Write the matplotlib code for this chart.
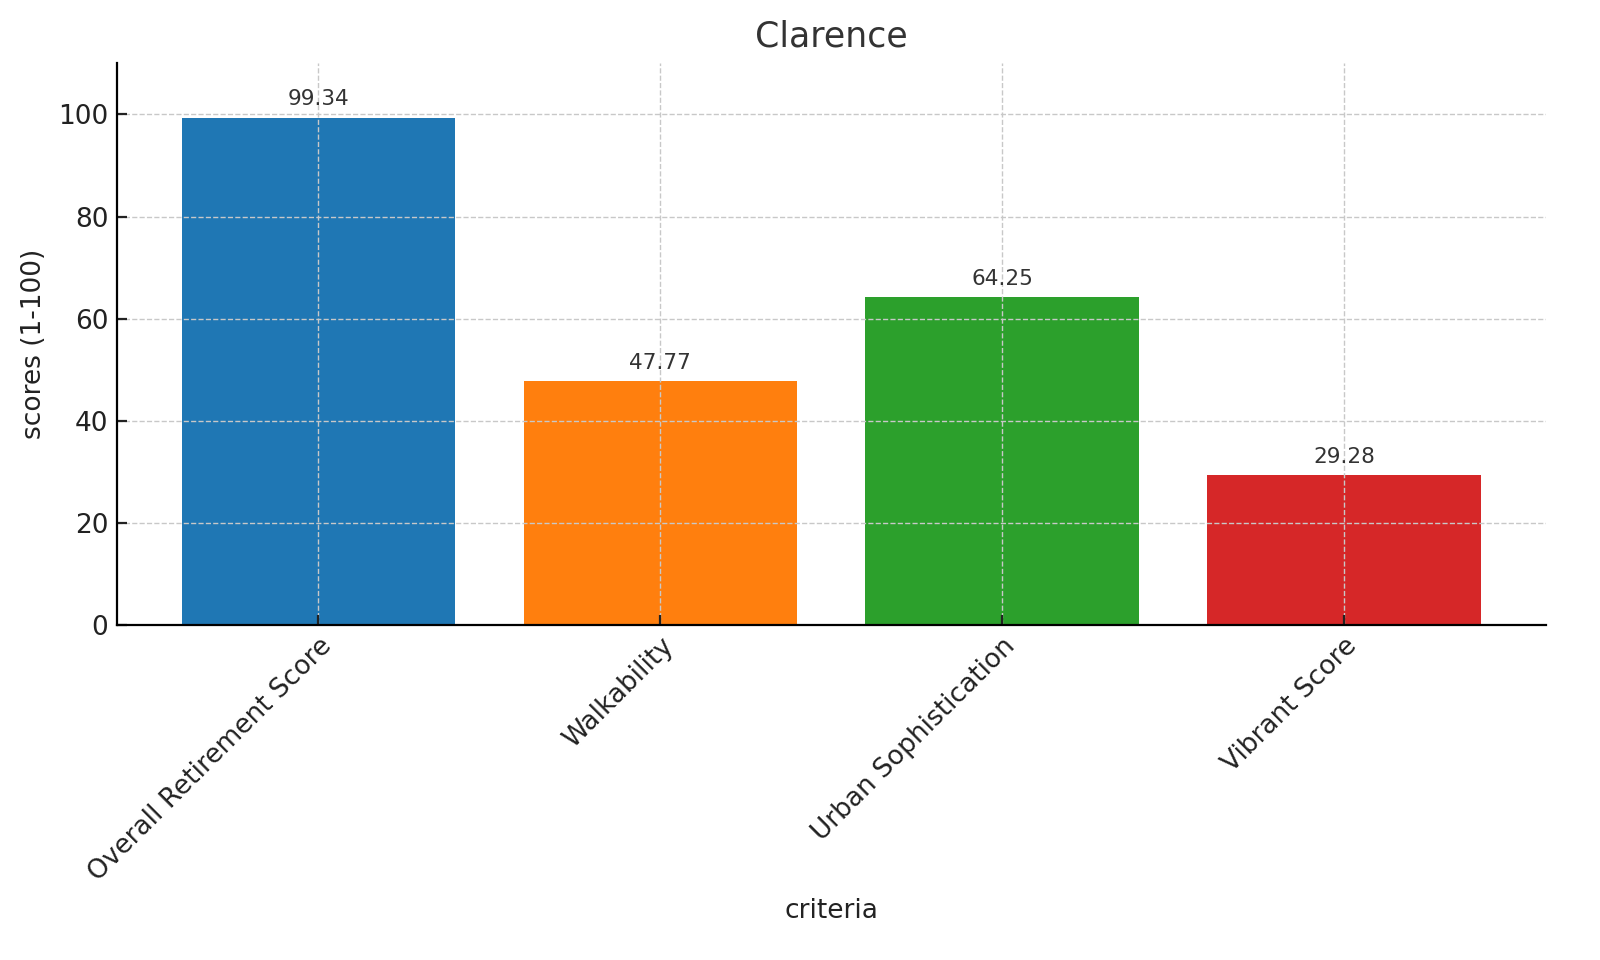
import matplotlib
matplotlib.use("Agg")
import matplotlib.pyplot as plt

criteria = ["Overall Retirement Score", "Walkability", "Urban Sophistication", "Vibrant Score"]
scores = [99.34, 47.77, 64.25, 29.28]
colors = ["#1f77b4", "#ff7f0e", "#2ca02c", "#d62728"]

plt.rcParams['font.family'] = ['DejaVu Sans']
fig, ax = plt.subplots(figsize=(8, 4.8), dpi=200)
fig.subplots_adjust(left=0.073, right=0.966, top=0.934, bottom=0.349)

bars = ax.bar(criteria, scores, color=colors, width=0.8)
for b, v in zip(bars, scores):
    ax.annotate(f"{v:.2f}", (b.get_x() + b.get_width() / 2, v),
                xytext=(0, 3), textcoords="offset points",
                ha="center", va="bottom", fontsize=7.8, color="#333333")

ax.set_ylim(0, 110)
ax.set_title("Clarence", fontsize=12.5, color="#333333")
ax.set_xlabel("criteria", fontsize=9.5, color="#222222")
ax.set_ylabel("scores (1-100)", fontsize=9.5, color="#222222")
ax.grid(True, linestyle="--", linewidth=0.5, color="#c8c8c8")
ax.spines["top"].set_visible(False)
ax.spines["right"].set_visible(False)
ax.tick_params(labelsize=9.5, colors="#222222", direction="in", pad=3)
plt.setp(ax.get_xticklabels(), rotation=45, ha="right", rotation_mode="anchor")

fig.savefig("out.png")
